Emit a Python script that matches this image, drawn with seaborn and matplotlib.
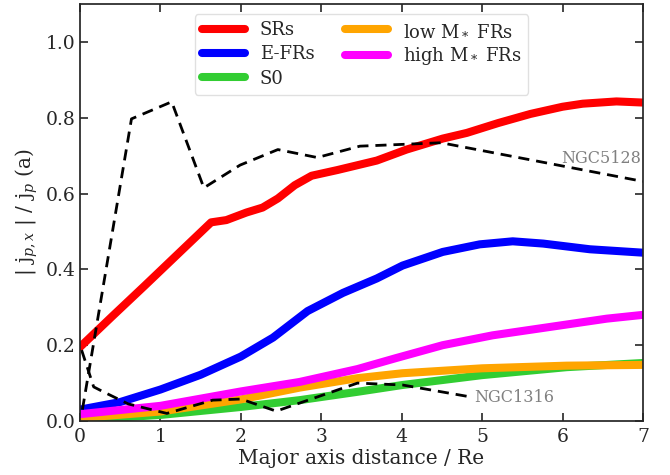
import matplotlib
matplotlib.use("Agg")
import matplotlib.pyplot as plt
import seaborn as sns
import pandas as pd

# ---- data ----
sr_x = [0.0, 0.4, 0.8, 1.2, 1.63, 1.82, 2.07, 2.27, 2.46, 2.67, 2.88, 3.2, 3.69, 4.06, 4.51, 4.81, 5.2, 5.6, 6.0, 6.25, 6.67, 7.0]
sr_y = [0.195, 0.276, 0.356, 0.437, 0.524, 0.530, 0.550, 0.563, 0.587, 0.622, 0.647, 0.662, 0.687, 0.716, 0.745, 0.760, 0.786, 0.810, 0.829, 0.837, 0.843, 0.840]

efr_x = [0.0, 0.5, 1.0, 1.5, 2.0, 2.4, 2.83, 3.27, 3.69, 4.01, 4.51, 4.97, 5.38, 5.76, 6.34, 7.0]
efr_y = [0.030, 0.050, 0.083, 0.122, 0.170, 0.220, 0.290, 0.338, 0.376, 0.410, 0.446, 0.466, 0.474, 0.468, 0.453, 0.444]

s0_x = [0.0, 1.0, 2.0, 2.73, 3.45, 4.01, 5.0, 6.05, 7.0]
s0_y = [0.003, 0.016, 0.037, 0.055, 0.077, 0.095, 0.121, 0.142, 0.153]

low_x = [0.0, 1.0, 2.0, 2.73, 3.45, 4.01, 5.0, 6.05, 7.0]
low_y = [0.008, 0.025, 0.057, 0.088, 0.113, 0.126, 0.139, 0.146, 0.148]

high_x = [0.0, 1.0, 2.0, 2.73, 3.45, 3.93, 4.51, 5.13, 5.84, 6.55, 7.0]
high_y = [0.018, 0.040, 0.078, 0.103, 0.137, 0.166, 0.200, 0.226, 0.248, 0.270, 0.280]

n5128_x = [0.03, 0.64, 1.14, 1.54, 1.99, 2.46, 2.95, 3.48, 4.49, 7.0]
n5128_y = [0.03, 0.797, 0.842, 0.615, 0.675, 0.716, 0.695, 0.725, 0.734, 0.632]

n1316_x = [0.02, 0.17, 0.29, 0.6, 1.08, 1.65, 2.0, 2.44, 3.45, 4.01, 4.87]
n1316_y = [0.187, 0.090, 0.077, 0.045, 0.020, 0.055, 0.058, 0.026, 0.100, 0.095, 0.063]

labels = ["SRs", "E-FRs", "S0", "low M$_*$ FRs", "high M$_*$ FRs"]
colors = ["red", "blue", "limegreen", "orange", "magenta"]

sns.set_theme(style="ticks")
plt.rcParams["font.family"] = ["DejaVu Serif"]
plt.rcParams["mathtext.fontset"] = "dejavuserif"
plt.rcParams["xtick.direction"] = "in"
plt.rcParams["ytick.direction"] = "in"

fig = plt.figure(figsize=(6.7, 4.75), dpi=100)
ax = fig.add_axes([80/670, 1-421/475, (643-80)/670, (421-4)/475])

series = [(sr_x, sr_y), (efr_x, efr_y), (s0_x, s0_y), (low_x, low_y), (high_x, high_y)]
for (xs, ys), lab, c in zip(series, labels, colors):
    sns.lineplot(x=xs, y=ys, ax=ax, color=c, lw=5.8, label=lab, sort=False)

sns.lineplot(x=n5128_x, y=n5128_y, ax=ax, color="black", lw=2, ls=(0, (4, 2.5)), sort=False)
sns.lineplot(x=n1316_x, y=n1316_y, ax=ax, color="black", lw=2, ls=(0, (4, 2.5)), sort=False)

ax.text(6.98, 0.692, "NGC5128", color="gray", fontsize=11.5, ha="right", va="center")
ax.text(4.9, 0.063, "NGC1316", color="gray", fontsize=11.5, ha="left", va="center")

ax.set_xlim(0, 7)
ax.set_ylim(0, 1.1)
ax.set_xticks(range(0, 8))
ax.set_yticks([0.0, 0.2, 0.4, 0.6, 0.8, 1.0])
ax.tick_params(axis="both", which="major", labelsize=13.5, length=6, width=1.2,
               top=True, right=True, colors=".15")
ax.tick_params(axis="x", pad=5)
ax.set_xlabel("Major axis distance / Re", fontsize=14.5, labelpad=2)
ax.set_ylabel("| j$_{p,x}$ | / j$_p$ (a)", fontsize=14.5, labelpad=4)

leg = ax.legend(loc="upper center", ncol=2, fontsize=13, frameon=True,
                bbox_to_anchor=(0.5, 1.0), handlelength=2.4, columnspacing=1.7,
                borderaxespad=0.55, labelspacing=0.35)
leg.get_frame().set_edgecolor("0.85")

fig.savefig("out.png", dpi=100)
